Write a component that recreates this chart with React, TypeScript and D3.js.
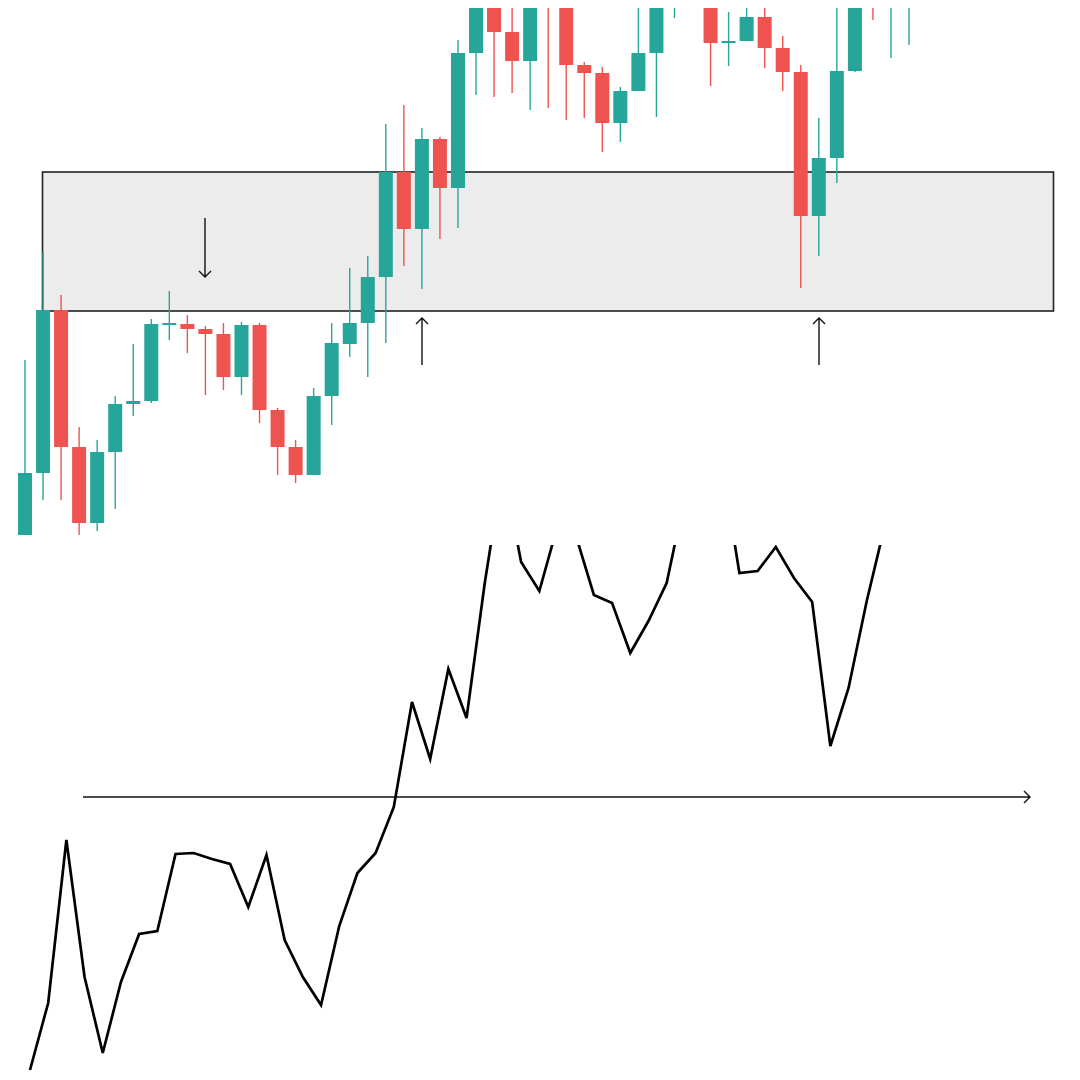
import React from 'react';
import * as d3 from 'd3';

// price units: one unit per pixel of the original chart
const opens = [65, 127, 290, 153, 77, 148, 196, 199, 275, 276, 271, 266, 223, 275, 190, 153, 125, 204, 256, 277,
  323, 428, 371, 461, 412, 547, 662, 568, 539, 604, 595, 535, 527, 477, 509, 547, 633, 650, 670, 557,
  559, 583, 552, 528, 384, 442, 529, 605, 595, 620];
const highs = [240, 348, 305, 173, 160, 204, 256, 281, 309, 285, 274, 277, 278, 277, 192, 160, 212, 277, 332, 344,
  476, 495, 472, 463, 560, 680, 675, 620, 630, 620, 610, 538, 533, 513, 610, 650, 670, 690, 685, 588,
  610, 610, 564, 535, 482, 610, 630, 620, 640, 660];
const lows = [65, 100, 100, 65, 69, 91, 184, 197, 260, 247, 205, 210, 205, 177, 125, 117, 125, 175, 243, 223,
  257, 334, 311, 361, 372, 505, 503, 507, 490, 492, 480, 482, 448, 458, 509, 483, 582, 610, 514, 534,
  559, 532, 509, 312, 344, 417, 528, 580, 542, 555];
const closes = [127, 290, 153, 77, 148, 196, 199, 276, 277, 271, 266, 223, 275, 190, 153, 125, 204, 257, 277, 323,
  428, 371, 461, 412, 547, 662, 568, 539, 604, 595, 535, 527, 477, 509, 547, 633, 650, 670, 557, 559,
  583, 552, 528, 384, 442, 529, 605, 595, 620, 640];
// line of closing prices, starting one bar earlier
const lineStart = 60;
const lineValues = [lineStart, ...closes];

const zoneTop = 428;
const zoneBottom = 289;

const teal = '#26a69a';
const red = '#ef5350';

const W = 1080;
const H = 1080;

const App: React.FC = () => {
  const x = d3.scaleLinear().domain([0, opens.length - 1]).range([25, 909]);
  const y = d3.scaleLinear().domain([0, 600]).range([600, 0]);
  const xl = d3.scaleLinear().domain([0, lineValues.length - 1]).range([30, 939.5]);
  const yl = d3.scaleLinear().domain([0, 600]).range([1130, 530]);
  const line = d3.line<number>((d, i) => xl(i), yl);
  const bw = 14;

  return (
    <svg width={W} height={H} style={{ position: 'absolute', left: 0, top: 0, background: '#fff' }}>
      <defs>
        <clipPath id="top-clip"><rect x={0} y={8} width={W} height={532} /></clipPath>
        <clipPath id="bottom-clip"><rect x={0} y={545} width={W} height={H - 545} /></clipPath>
      </defs>
      <rect x={42.5} y={y(zoneTop)} width={1053.5 - 42.5} height={y(zoneBottom) - y(zoneTop)}
        fill="#ececec" stroke="#222" strokeWidth={1.6} />
      <g clipPath="url(#top-clip)">
        {opens.map((o, i) => {
          const c = closes[i];
          const col = c >= o ? teal : red;
          const top = y(Math.max(o, c));
          const h = Math.max(1.5, Math.abs(y(o) - y(c)));
          return (
            <g key={i}>
              <line x1={x(i)} x2={x(i)} y1={y(highs[i])} y2={y(lows[i])} stroke={col} strokeWidth={1.4} />
              <rect x={x(i) - bw / 2} y={top} width={bw} height={h} fill={col} />
            </g>
          );
        })}
      </g>
      <g fill="none" stroke="#111" strokeWidth={1.4}>
        <path d="M205,218V277M199,271L205,277L211,271" />
        <path d="M422,365V318M416,324L422,318L428,324" />
        <path d="M819,365V318M813,324L819,318L825,324" />
        <path d="M83,797H1030M1024,791L1030,797L1024,803" />
      </g>
      <g clipPath="url(#bottom-clip)">
        <path d={line(lineValues) ?? ''} fill="none" stroke="#000" strokeWidth={2.7} strokeLinejoin="miter" />
      </g>
    </svg>
  );
};

export default App;
